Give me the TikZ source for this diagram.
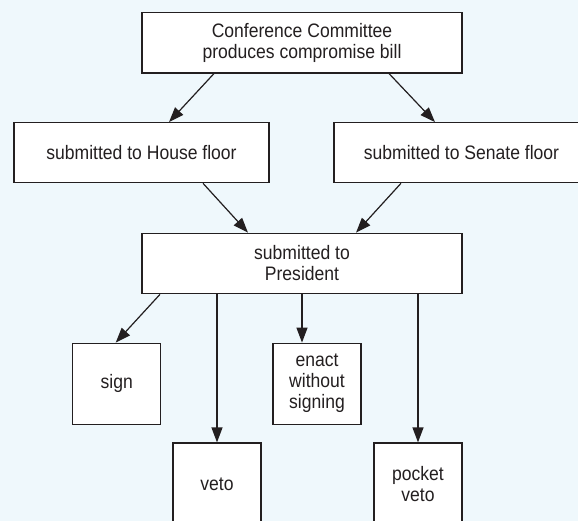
\documentclass[tikz,border=0pt]{standalone}
\usepackage{xcolor}
\usepackage{fontspec}
\newfontfamily\boxfont[FakeStretch=0.9]{Liberation Sans}
\usepackage{tikz}
\usetikzlibrary{positioning}
\usetikzlibrary{arrows.meta}
\definecolor{bgblue}{RGB}{239,248,252}
\definecolor{ink}{RGB}{35,31,32}
\tikzset{edge/.style = {-{Triangle[length=15pt,width=11pt]}, draw=ink, fill=ink}}

\begin{document}
\begin{tikzpicture}[x=1pt,y=1pt,node distance=110pt,line width=1.2pt,
    main box/.style={rectangle,draw=ink,fill=white,text=ink,align=center,inner sep=0pt,
      font=\boxfont\fontsize{19.5}{21}\selectfont},
    wide box/.style={main box,minimum width=320pt,minimum height=60.5pt},
    floor box/.style={main box,minimum width=255pt,minimum height=60pt},
    small box/.style={main box,minimum width=88pt,minimum height=81pt},
    tall box/.style={main box,minimum width=88pt,minimum height=82pt}]
            \fill[bgblue] (-302,42.7) rectangle (276,-478.3);
            \useasboundingbox (-302,42.7) rectangle (276,-478.3);

            \node[wide box] (top) {Conference Committee\\produces compromise bill};
            \node[floor box] (house) [below of=top, xshift=-160.5pt] {submitted to House floor};
            \node[floor box] (senate) [below of=top, xshift=159.5pt] {submitted to Senate floor};
            \node[wide box] (pres) [below of=top, node distance=220.8pt] {submitted to\\President};

            \node[small box] (sign) [below of=pres, node distance=120.2pt, xshift=-185.3pt] {sign};
            \node[small box] (enact) [below of=pres, node distance=120.2pt, xshift=15pt] {enact\\without\\signing};
            \node[tall box] (veto) [below of=pres, node distance=220.5pt, xshift=-85pt] {veto};
            \node[tall box] (pocket) [below of=pres, node distance=220.5pt, xshift=116pt] {pocket\\veto};

            \draw[edge] ([xshift=-88pt]top.south) -- ([xshift=27.5pt]house.north);
            \draw[edge] ([xshift=87pt]top.south) -- ([xshift=-26.5pt]senate.north);

            \draw[edge] ([xshift=61.5pt]house.south) -- ([xshift=-54pt]pres.north);
            \draw[edge] ([xshift=-60.5pt]senate.south) -- ([xshift=54pt]pres.north);

            \draw[edge] ([xshift=-142pt]pres.south) -- ([xshift=-1pt]sign.north);
            \draw[edge] ([xshift=-85pt]pres.south) -- (veto.north);
            \draw[edge] (pres.south) -- ([xshift=-15pt]enact.north);
            \draw[edge] ([xshift=116pt]pres.south) -- (pocket.north);

        \end{tikzpicture}
\end{document}
